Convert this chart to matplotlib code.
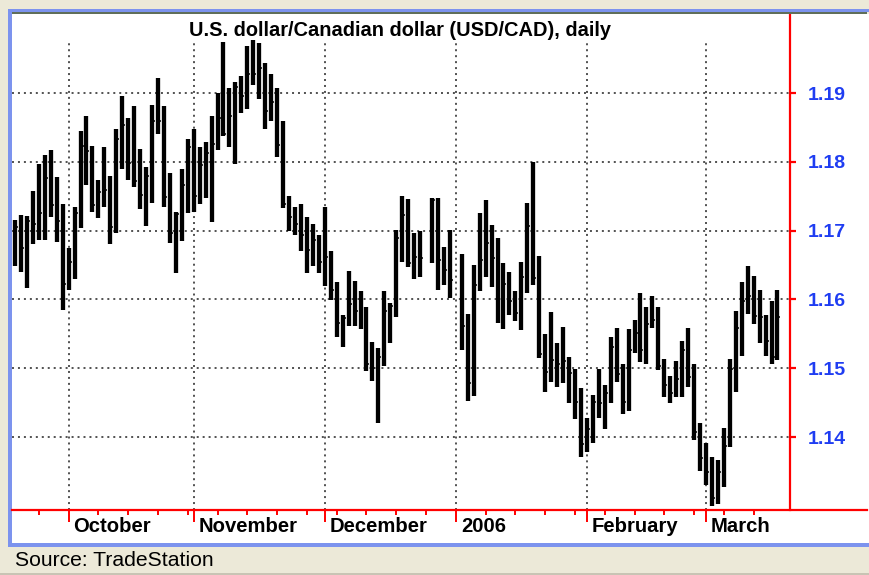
import matplotlib
matplotlib.use('Agg')
import matplotlib.pyplot as plt
import numpy as np
import pandas as pd
from matplotlib.patches import Rectangle
from matplotlib.lines import Line2D

plt.rcParams['font.family'] = ['Liberation Sans', 'DejaVu Sans']

# ---------------- data (USD/CAD daily, Sep 20 2005 - Mar 17 2006) ----------------
start_date = '2005-09-20'
end_date = '2006-03-17'
nan = np.nan

highs = [1.1715, 1.1723, 1.1721, 1.1758, 1.1797, 1.1810, 1.1817, 1.1778, 1.1739, 1.1675,
         1.1735, 1.1845, 1.1867, 1.1823, 1.1773, 1.1821, 1.1780, 1.1847, 1.1895, 1.1864,
         1.1881, 1.1819, 1.1792, 1.1883, 1.1922, 1.1881, 1.1784, 1.1727, 1.1790, 1.1833,
         1.1847, 1.1822, 1.1829, 1.1866, 1.1900, 1.1974, 1.1908, 1.1916, 1.1925, 1.1969,
         1.1977, 1.1972, 1.1944, 1.1927, 1.1908, 1.1859, 1.1751, 1.1734, 1.1738, 1.1720,
         1.1710, 1.1694, 1.1734, 1.1671, 1.1625, 1.1577, 1.1641, 1.1627, 1.1612, 1.1589,
         1.1538, 1.1530, 1.1612, 1.1595, 1.1701, 1.1751, 1.1746, 1.1697, 1.1700, nan,
         1.1747, 1.1747, 1.1676, 1.1701, nan, 1.1666, 1.1579, 1.1650, 1.1726, 1.1745,
         1.1708, 1.1689, 1.1653, 1.1640, 1.1612, 1.1654, 1.1740, 1.1800, 1.1663, 1.1549,
         1.1581, 1.1536, 1.1560, 1.1517, 1.1499, 1.1471, 1.1427, 1.1461, 1.1499, 1.1475,
         1.1545, 1.1559, 1.1506, 1.1557, 1.1570, 1.1609, 1.1589, 1.1605, 1.1589, 1.1513,
         1.1489, 1.1510, 1.1539, 1.1558, 1.1506, 1.1421, 1.1392, 1.1371, 1.1366, 1.1413,
         1.1514, 1.1583, 1.1626, 1.1648, 1.1634, 1.1613, 1.1577, 1.1597, 1.1613]

lows = [1.1649, 1.1640, 1.1617, 1.1680, 1.1686, 1.1686, 1.1720, 1.1684, 1.1584, 1.1614,
        1.1630, 1.1704, 1.1766, 1.1727, 1.1719, 1.1735, 1.1680, 1.1697, 1.1789, 1.1773,
        1.1763, 1.1732, 1.1706, 1.1740, 1.1840, 1.1734, 1.1682, 1.1638, 1.1685, 1.1725,
        1.1727, 1.1739, 1.1748, 1.1712, 1.1817, 1.1837, 1.1821, 1.1797, 1.1871, 1.1877,
        1.1911, 1.1892, 1.1848, 1.1860, 1.1807, 1.1733, 1.1699, 1.1694, 1.1670, 1.1638,
        1.1649, 1.1638, 1.1619, 1.1599, 1.1545, 1.1531, 1.1561, 1.1561, 1.1557, 1.1496,
        1.1482, 1.1420, 1.1503, 1.1536, 1.1574, 1.1655, 1.1647, 1.1630, 1.1633, nan,
        1.1653, 1.1614, 1.1621, 1.1602, nan, 1.1527, 1.1452, 1.1460, 1.1612, 1.1632,
        1.1618, 1.1566, 1.1557, 1.1577, 1.1568, 1.1555, 1.1609, 1.1621, 1.1515, 1.1466,
        1.1480, 1.1472, 1.1478, 1.1450, 1.1426, 1.1371, 1.1378, 1.1391, 1.1427, 1.1412,
        1.1450, 1.1480, 1.1434, 1.1438, 1.1522, 1.1509, 1.1506, 1.1558, 1.1497, 1.1458,
        1.1449, 1.1458, 1.1458, 1.1473, 1.1395, 1.1351, 1.1330, 1.1299, 1.1303, 1.1328,
        1.1386, 1.1466, 1.1518, 1.1579, 1.1564, 1.1536, 1.1518, 1.1506, 1.1512]

closes = [1.1705, 1.1675, 1.1714, 1.1709, 1.1725, 1.1777, 1.1737, 1.1714, 1.1623, 1.1654,
          1.1725, 1.1823, 1.1815, 1.1737, 1.1756, 1.1759, 1.1705, 1.1833, 1.1854, 1.1799,
          1.1772, 1.1752, 1.1780, 1.1860, 1.1859, 1.1749, 1.1696, 1.1724, 1.1766, 1.1821,
          1.1750, 1.1795, 1.1813, 1.1826, 1.1864, 1.1841, 1.1867, 1.1909, 1.1895, 1.1928,
          1.1928, 1.1937, 1.1874, 1.1887, 1.1824, 1.1738, 1.1720, 1.1710, 1.1694, 1.1672,
          1.1686, 1.1654, 1.1661, 1.1614, 1.1566, 1.1573, 1.1594, 1.1583, 1.1566, 1.1506,
          1.1501, 1.1516, 1.1583, 1.1590, 1.1689, 1.1722, 1.1653, 1.1661, 1.1660, nan,
          1.1744, 1.1658, 1.1643, 1.1628, nan, 1.1561, 1.1479, 1.1621, 1.1658, 1.1682,
          1.1660, 1.1589, 1.1623, 1.1597, 1.1580, 1.1633, 1.1706, 1.1631, 1.1520, 1.1494,
          1.1512, 1.1506, 1.1510, 1.1493, 1.1451, 1.1390, 1.1411, 1.1451, 1.1450, 1.1464,
          1.1531, 1.1491, 1.1451, 1.1527, 1.1551, 1.1527, 1.1564, 1.1570, 1.1503, 1.1475,
          1.1464, 1.1485, 1.1526, 1.1487, 1.1408, 1.1370, 1.1349, 1.1312, 1.1349, 1.1387,
          1.1499, 1.1559, 1.1598, 1.1605, 1.1576, 1.1575, 1.1540, 1.1517, 1.1574]

month_labels = ['October', 'November', 'December', '2006', 'February', 'March']
price_ticks = [1.14, 1.15, 1.16, 1.17, 1.18, 1.19]
title = 'U.S. dollar/Canadian dollar (USD/CAD), daily'
source = 'Source: TradeStation'

# ---------------- figure ----------------
W, H = 869, 575
fig = plt.figure(figsize=(W / 100, H / 100), dpi=100, facecolor='#ECE9D8')


def fx(x):
    return x / W


def fy(y):
    return 1 - y / H


def frect(x0, y0, x1, y1, color, z=0):
    fig.add_artist(Rectangle((fx(x0), fy(y1)), fx(x1) - fx(x0), fy(y0) - fy(y1),
                             facecolor=color, edgecolor='none',
                             transform=fig.transFigure, zorder=z))


# white panel with blue frame
frect(12, 14, 869, 543, 'white', 0)
frect(8, 9, 12, 547, '#7C93EE', 1)
frect(8, 9, 869, 12, '#7C93EE', 1)
frect(12, 12, 867, 14, '#5F6E5A', 1)
frect(8, 543, 869, 547, '#7C93EE', 1)
frect(0, 573, 869, 575, '#C8C4B4', 1)

dates = pd.bdate_range(start_date, end_date)
n = len(dates)
x = np.arange(n)
hi = np.array(highs)
lo = np.array(lows)
cl = np.array(closes)

ymin, ymax = 1.12939, 1.20134
ax = fig.add_axes([fx(12), fy(510), fx(790) - fx(12), fy(15) - fy(510)])
ax.set_facecolor('none')
ax.set_xlim(-0.504, 130.1)
ax.set_ylim(ymin, ymax)

month_first = [i for i in range(1, n) if dates[i].month != dates[i - 1].month]
mondays = [i for i in range(n) if dates[i].weekday() == 0]

dot = (0, (1.3, 2.6))
for p in price_ticks:
    ax.plot([-0.504, 130.1], [p, p], color='#222222', lw=1.1, linestyle=dot, zorder=1)
for m in month_first:
    ax.plot([m, m], [ymin, 1.1973], color='#222222', lw=1.1, linestyle=dot, zorder=1)

# OHLC bars
ax.vlines(x, lo, hi, color='black', lw=3.1, zorder=3)
ax.hlines(cl, x, x + 0.5, color='black', lw=1.1, zorder=4)

for s in ['top', 'left', 'bottom']:
    ax.spines[s].set_visible(False)
ax.spines['right'].set_color('red')
ax.spines['right'].set_linewidth(1.6)

ax.yaxis.tick_right()
ax.set_yticks(price_ticks)
ax.set_yticklabels(['%.2f' % p for p in price_ticks])
ax.tick_params(axis='y', colors='red', length=4.5, width=1.6, pad=8.5,
               labelcolor='#1F3DF2', labelsize=14)
for lbl in ax.get_yticklabels():
    lbl.set_fontweight('bold')

ax.set_xticks(month_first)
ax.set_xticks(mondays, minor=True)
ax.set_xticklabels([])
ax.tick_params(axis='x', which='major', colors='red', length=8.5, width=1.4)
ax.tick_params(axis='x', which='minor', colors='red', length=3.8, width=1.4)

for m, lab in zip(month_first, month_labels):
    ax.annotate(lab, xy=(m, 0), xycoords=('data', 'axes fraction'),
                xytext=(5, -17), textcoords='offset pixels',
                ha='left', va='center', fontsize=14.6, fontweight='bold', color='black')

fig.add_artist(Line2D([fx(12), fx(867)], [fy(510), fy(510)], color='red', lw=1.6,
                      transform=fig.transFigure, zorder=5))

fig.text(fx(400), fy(31), title, ha='center', va='center', fontsize=14.4,
         fontweight='bold', color='black')
fig.text(fx(15), fy(560), source, ha='left', va='center', fontsize=15.2, color='black')

fig.savefig('out.png', dpi=100, facecolor=fig.get_facecolor())
